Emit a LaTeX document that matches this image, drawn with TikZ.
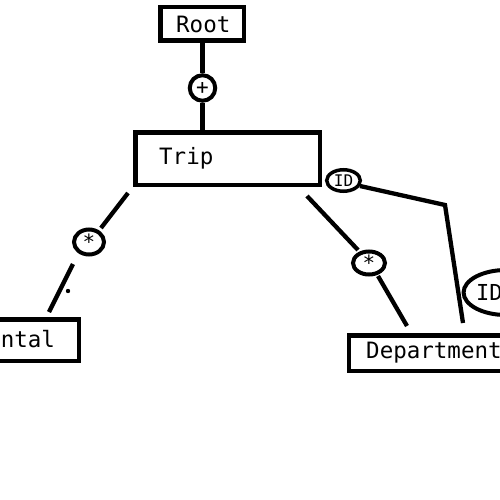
\documentclass[tikz,border=0pt]{standalone}
\usepackage{fontspec}
\setmonofont{DejaVu Sans Mono}
\usetikzlibrary{shapes.geometric}
\begin{document}
\begin{tikzpicture}[x=1pt,y=-1pt,
  box/.style={draw,line width=4.5pt,rectangle,inner sep=0pt},
  ring/.style={draw,line width=4pt,circle,inner sep=0pt,font=\ttfamily\fontsize{21}{21}\selectfont},
  oval/.style={draw,line width=4pt,ellipse,inner sep=0pt,font=\ttfamily\fontsize{21}{21}\selectfont},
  lbl/.style={inner sep=0pt,anchor=base west,font=\ttfamily\fontsize{22.5}{22.5}\selectfont},
  conn/.style={line width=4.3pt}]
\useasboundingbox (0,0) rectangle (500,500);
\clip (0,0) rectangle (500,500);
% boxes
\node[box,minimum width=83.5pt,minimum height=33.5pt] (root) at (202,24) {};
\node[box,minimum width=184.5pt,minimum height=52.5pt] (trip) at (227.5,158.5) {};
\node[box,minimum width=190.75pt,minimum height=35.5pt] (dept) at (444.6,353) {};
\node[box,minimum width=138.75pt,minimum height=41.5pt] (rental) at (9.4,340) {};
% labels
\node[lbl] (rootlbl) at (176,33) {Root};
\node[lbl] (triplbl) at (159,164) {Trip};
\node[lbl] (deptlbl) at (366,358) {Department};
\node[lbl] (rentallbl) at (-26.5,347) {Rental};
% connectors' decorations
\node[ring,minimum size=25.5pt] (plus) at (202.5,88) {+};
\node[oval,minimum width=33.5pt,minimum height=21.5pt,line width=3.5pt,font=\ttfamily\fontsize{16}{16}\selectfont] (idsmall) at (343.5,180.5) {ID};
\node[oval,minimum width=32pt,minimum height=23pt] (starR) at (369,263) {*};
\node[oval,minimum width=30pt,minimum height=25pt] (starL) at (89,242) {*};
\node[oval,minimum width=78pt,minimum height=45pt,font=\ttfamily\fontsize{22}{22}\selectfont,text width=60pt,align=left] (idbig) at (506,292.5) {ID};
% free ends
\coordinate (l1) at (128,193);
\coordinate (l2) at (101,228);
\coordinate (l3) at (73,264);
\coordinate (l4) at (49,312);
\coordinate (r1) at (307,196);
\coordinate (r2) at (358,250);
\coordinate (r3) at (378,276);
\coordinate (r4) at (407,326);
\coordinate (i1) at (360,186);
\coordinate (i2) at (445,205);
\coordinate (i3) at (463,323);
% connectors
\draw[conn] (root.south -| plus) -- (plus);
\draw[conn] (plus) -- (plus |- trip.north);
\draw[conn] (l1) -- (l2);
\draw[conn] (l3) -- (l4);
\fill (68,291) circle (2.2pt);
\draw[conn] (r1) -- (r2);
\draw[conn] (r3) -- (r4);
\draw[conn] (i1) -- (i2) -- (i3);
\end{tikzpicture}
\end{document}
